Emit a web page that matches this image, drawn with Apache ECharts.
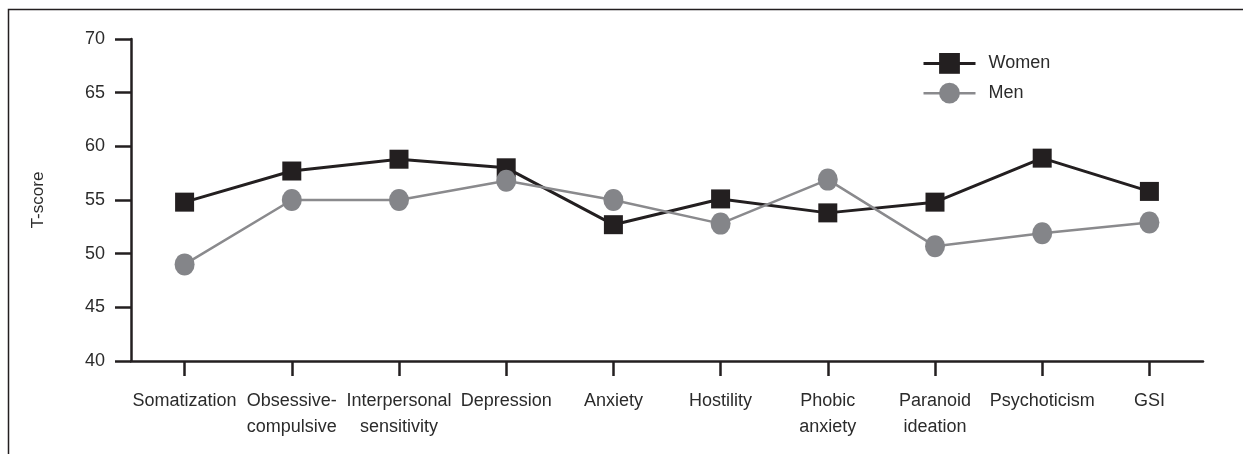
<!DOCTYPE html>
<html>
<head>
<meta charset="utf-8">
<script src="https://cdn.jsdelivr.net/npm/echarts@6/dist/echarts.min.js"></script>
<style>
html,body{margin:0;padding:0;background:#fff;}
#chart{width:1243px;height:454px;}
</style>
</head>
<body>
<div id="chart"></div>
<script>
const categories = ['Somatization','Obsessive-\ncompulsive','Interpersonal\nsensitivity','Depression','Anxiety','Hostility','Phobic\nanxiety','Paranoid\nideation','Psychoticism','GSI'];
const women = [54.8, 57.7, 58.8, 58.0, 52.7, 55.1, 53.8, 54.8, 58.9, 55.8];
const men = [49.0, 55.0, 55.0, 56.8, 55.0, 52.8, 56.9, 50.7, 51.9, 52.9];
const yTicks = [40, 45, 50, 55, 60, 65, 70];

const ink = '#231f20';
const textColor = '#2b2b2b';
const font = '"Liberation Sans", Arial, Helvetica, sans-serif';

const chart = echarts.init(document.getElementById('chart'), null, {renderer: 'canvas'});
chart.setOption({
  animation: false,
  backgroundColor: '#ffffff',
  textStyle: {fontFamily: font},
  grid: {left: 131, right: 40, top: 39, bottom: 93, containLabel: false},
  legend: {
    orient: 'vertical',
    left: 922,
    top: 53,
    padding: 0,
    itemWidth: 52,
    itemHeight: 26,
    itemGap: 9,
    textStyle: {fontFamily: font, fontSize: 18, color: textColor, padding: [0, 0, 0, 8]},
    data: [
      {name: 'Women', lineStyle: {width: 3, color: ink}},
      {name: 'Men', lineStyle: {width: 2.5, color: '#8a8a8d'}}
    ]
  },
  xAxis: {
    type: 'category',
    data: categories,
    boundaryGap: true,
    axisLine: {show: true, lineStyle: {color: ink, width: 2.5}},
    axisTick: {show: true, alignWithLabel: true, length: 15, lineStyle: {color: ink, width: 2.5}},
    axisLabel: {fontFamily: font, fontSize: 18, color: textColor, margin: 27, lineHeight: 26, interval: 0}
  },
  yAxis: {
    type: 'value',
    min: yTicks[0],
    max: yTicks[yTicks.length - 1],
    interval: 5,
    name: 'T-score',
    nameLocation: 'middle',
    nameGap: 84,
    nameRotate: 90,
    nameTextStyle: {fontFamily: font, fontSize: 17, color: textColor},
    axisLine: {show: true, lineStyle: {color: ink, width: 2.5}},
    axisTick: {show: true, length: 16, lineStyle: {color: ink, width: 2.5}},
    axisLabel: {fontFamily: font, fontSize: 18, color: textColor, margin: 26},
    splitLine: {show: false}
  },
  graphic: [{
    type: 'polyline',
    shape: {points: [[8.5, 454], [8.5, 9.5], [1243, 9.5]]},
    style: {stroke: ink, lineWidth: 1.5, fill: null},
    silent: true
  }],
  series: [
    {
      name: 'Women',
      type: 'line',
      data: women,
      symbol: 'rect',
      symbolSize: 19,
      itemStyle: {color: ink},
      lineStyle: {color: ink, width: 3},
      z: 2
    },
    {
      name: 'Men',
      type: 'line',
      data: men,
      symbol: 'circle',
      symbolSize: [20, 22],
      itemStyle: {color: '#848589'},
      lineStyle: {color: '#8a8a8d', width: 2.5},
      z: 3
    }
  ]
});
</script>
</body>
</html>
